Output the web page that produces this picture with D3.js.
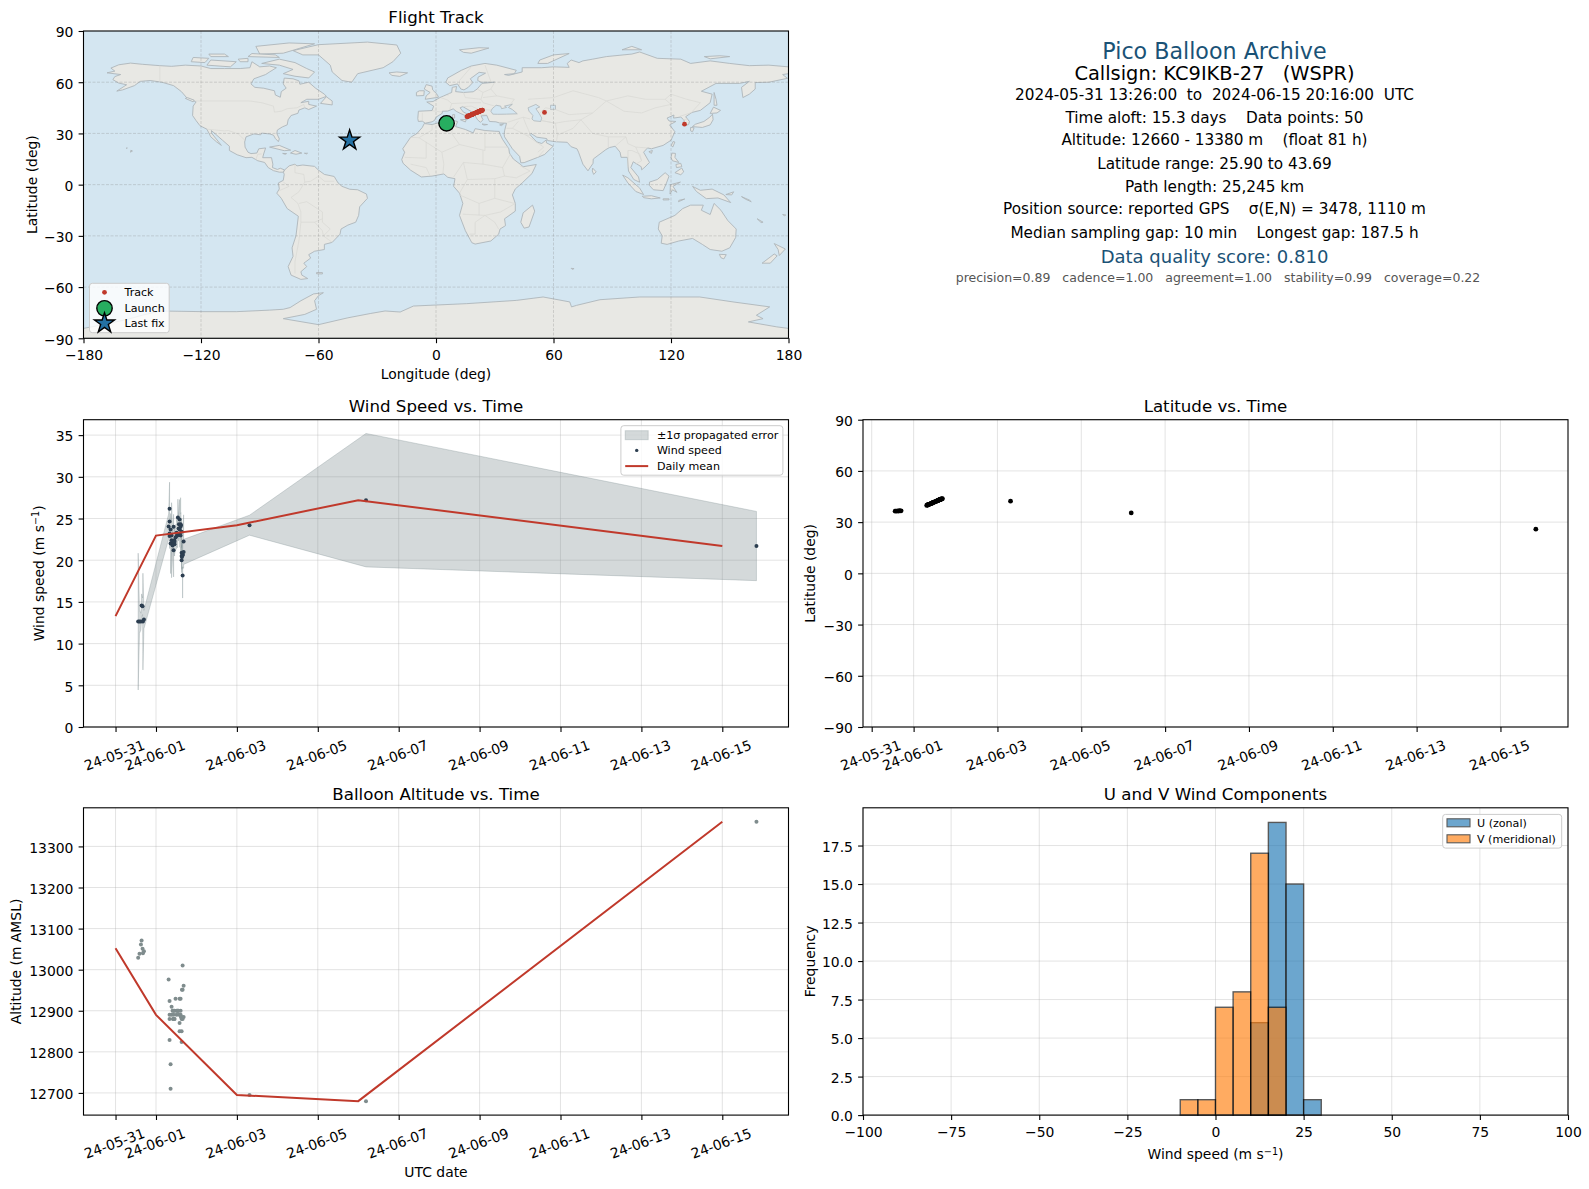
<!DOCTYPE html>
<html>
<head>
<meta charset="utf-8">
<script src="https://cdn.jsdelivr.net/npm/d3@7"></script>
<style>
  html, body { margin: 0; padding: 0; background: #fff; }
  svg { display: block; }
  text { font-family: "DejaVu Sans", sans-serif; fill: #000; }
  .tick text { font-size: 13.9px; }
  .ttl { font-size: 16.67px; text-anchor: middle; }
  .lab { font-size: 13.9px; text-anchor: middle; }
  .leg { font-size: 11.1px; }
  .info { font-size: 15.28px; text-anchor: middle; }
</style>
</head>
<body>
<div id="chart"></div>
<script>
// ---- flight data. hours are counted from 2024-05-31 00:00 UTC
let hours = [13.43, 14.2, 15.07, 15.46, 16.05, 16.25, 16.85,
  31.5, 32.06, 32.06, 32.06, 32.06, 32.66, 32.66, 33.25, 33.25, 33.84, 34.05, 34.44, 34.44, 34.44,
  34.85, 35.03, 35.03, 35.6, 36.2, 36.2, 36.8, 37.0, 37.4, 37.6, 38.0, 38.0, 38.0, 38.6, 38.6, 38.6,
  38.8, 39.2, 39.2, 39.2, 39.2, 39.4, 39.8, 39.8, 39.8, 40.4, 40.4,
  79.5, 148.6, 380.27];
let windSpeed = [12.64, 12.64, 12.64, 14.56, 14.48, 12.64, 12.88,
  24.04, 26.16, 24.64, 23.2, 22.9, 23.68, 22.0, 22.96, 22.4, 21.76, 22.08, 24.0, 21.2, 22.3,
  22.4, 21.9, 22.2, 22.72, 22.9, 23.3, 23.0, 25.12, 23.8, 24.3, 24.88, 23.68, 23.1, 22.96, 24.3, 24.0,
  24.2, 20.0, 23.4, 20.9, 20.5, 20.4, 20.72, 18.16, 20.6, 22.24, 21.0,
  24.2, 27.2, 21.7];
let windErr = [8.2, 1.4, 1.0, 1.4, 1.0, 5.8, 1.1,
  1.5, 3.2, 1.6, 1.4, 1.5, 1.6, 3.6, 1.5, 4.5, 1.4, 1.5, 1.5, 3.2, 1.5,
  1.4, 1.4, 1.5, 1.5, 1.5, 1.6, 1.5, 2.2, 1.5, 1.6, 2.4, 1.6, 1.5, 1.5, 3.2, 1.6,
  1.5, 1.5, 1.6, 1.5, 1.4, 1.5, 1.5, 2.7, 1.5, 3.2, 1.5,
  1.2, 8.0, 4.15];
let altitude = [13029, 13039, 13061, 13071, 13051, 13040, 13045,
  12976, 12924, 12890, 12880, 12829, 12770, 12710, 12910, 12890, 12900, 12880, 12900, 12890, 12880,
  12880, 12900, 12880, 12929, 12900, 12890, 12900, 12900, 12900, 12890, 12929, 12870, 12850, 12929, 12900, 12890,
  12885, 12885, 12880, 12850, 12824, 12951, 13010, 12951, 12880, 12961, 12885,
  12695, 12680, 13360];
let latitude = [36.4, 36.45, 36.5, 36.55, 36.6, 36.6, 36.65,
  39.8, 40.05, 40.1, 40.1, 40.15, 40.3, 40.35, 40.6, 40.6, 40.85, 40.9, 41.1, 41.1, 41.1,
  41.3, 41.35, 41.4, 41.65, 41.9, 41.9, 42.15, 42.25, 42.4, 42.5, 42.7, 42.7, 42.7, 42.9, 43.0, 43.0,
  43.05, 43.2, 43.25, 43.25, 43.3, 43.35, 43.5, 43.5, 43.55, 43.65, 43.69,
  42.3, 35.4, 25.9];
let longitude = [5.4, 5.5, 5.6, 5.7, 5.8, 5.8, 5.9,
  15.8, 16.3, 16.35, 16.4, 16.4, 16.8, 16.9, 17.4, 17.4, 17.9, 18.1, 18.4, 18.4, 18.45,
  18.8, 19.0, 19.0, 19.5, 20.0, 20.1, 20.6, 20.8, 21.1, 21.3, 21.7, 21.7, 21.75, 22.2, 22.25, 22.3,
  22.4, 22.8, 22.8, 22.85, 22.9, 23.0, 23.4, 23.4, 23.45, 23.65, 23.7,
  55.4, 126.9, -44.1];

// daily means
let meanHours = [0, 24, 72, 144, 360];
let meanWind = [13.3, 22.95, 24.2, 27.2, 21.7];
let meanAlt = [13052, 12890, 12695, 12680, 13360];

// histogram, left edges of the 5 m/s bins
let histEdges = [-10, -5, 0, 5, 10, 15, 20, 25];
let histU = [0, 0, 0, 0, 6, 19, 15, 1];
let histV = [1, 1, 7, 8, 17, 7, 0, 0];

let launchPos = [5.4, 35.9];
let lastPos = [-44.1, 25.9];

let dateTicks = ["2024-05-31", "2024-06-01", "2024-06-03", "2024-06-05", "2024-06-07", "2024-06-09",
  "2024-06-11", "2024-06-13", "2024-06-15"];
let lonTicks = [-180, -120, -60, 0, 60, 120, 180];
let latTicks = [-90, -60, -30, 0, 30, 60, 90];
let windTicks = [0, 5, 10, 15, 20, 25, 30, 35];
let altTicks = [12700, 12800, 12900, 13000, 13100, 13200, 13300];
let histYTicks = [0, 2.5, 5, 7.5, 10, 12.5, 15, 17.5];
let histXTicks = [-100, -75, -50, -25, 0, 25, 50, 75, 100];

let infoLines = [
  "2024-05-31 13:26:00  to  2024-06-15 20:16:00  UTC",
  "Time aloft: 15.3 days    Data points: 50",
  "Altitude: 12660 - 13380 m    (float 81 h)",
  "Latitude range: 25.90 to 43.69",
  "Path length: 25,245 km",
  "Position source: reported GPS    σ(E,N) = 3478, 1110 m",
  "Median sampling gap: 10 min    Longest gap: 187.5 h"
];

// ---- rough world outline, lon/lat
let land = [
  // north america
  [[-168,65.5],[-164,66.5],[-166,68.3],[-162,70.2],[-156,71.2],[-150,70.5],[-141,69.7],[-135,69.3],[-128,70],[-120,69.5],[-115,68],[-108,68],[-100,68],[-95,68.5],[-94,72],[-90,69],[-85,69.5],[-81.5,68.5],[-85,66],[-87,64.5],[-93,62],[-94.5,59],[-92.5,57],[-88,56.5],[-82.5,55],[-82,52.5],[-79.5,51.2],[-79,54.5],[-76.5,56.5],[-78,59],[-77.5,62.4],[-73,62],[-70,60.8],[-69.5,58.8],[-65,60],[-61.5,56.5],[-57,53],[-56,51.7],[-60,50],[-66,50],[-69,48],[-65,48.8],[-65,47],[-61,46],[-65,44],[-67,45],[-70,43.7],[-70.5,41.8],[-74,40.5],[-75.5,38],[-76,35],[-78.5,33.8],[-81,32],[-81.3,30],[-80,26.8],[-80.5,25.2],[-82,27],[-83,29],[-85,29.7],[-89,30.2],[-89.5,29.2],[-93,29.7],[-97,28],[-97.7,25],[-97.5,22],[-96,19],[-94.5,18.2],[-91.5,18.5],[-90.5,21],[-87,21.5],[-88,18],[-88.5,15.8],[-84,15.8],[-83.3,12],[-83.5,10],[-81,8.9],[-79.5,9.6],[-77.3,8.6],[-78,7.3],[-80,7.3],[-83,8.2],[-85.7,10],[-87.5,13],[-91,14],[-94,16],[-97,15.8],[-101.5,17.5],[-105.5,20],[-105.5,22.5],[-109,26],[-112.5,29.5],[-114.7,31.7],[-114.5,30],[-111,25],[-109.6,23],[-112,25],[-115,28],[-117,32.5],[-120.5,34.5],[-122.5,37.5],[-124.3,40.5],[-124,46],[-122.5,48.5],[-127,50.5],[-130,54.5],[-134,58],[-140,60],[-146,61],[-151,60.5],[-154,58],[-160,55.5],[-163,54.8],[-158,58.5],[-162,59.5],[-165,61.5],[-164,63.3],[-161,64.5]],
  // greenland and the arctic islands
  [[-73,78.5],[-60,82],[-35,83.5],[-20,81.8],[-18,77],[-22,72],[-27,68.5],[-40,65],[-43,60],[-48,61],[-53,66],[-54,70],[-60,76],[-68,76]],
  [[-80,73.5],[-72,71.5],[-66,68],[-62,66],[-65,62.5],[-72,63.5],[-78,65],[-73,67.5],[-80,70],[-89,71]],
  [[-117,70],[-105,69],[-102,72],[-115,73]],
  [[-90,76.5],[-78,77],[-62,82.5],[-75,83],[-92,81]],
  [[-125,72],[-118,71.5],[-116,74],[-124,74.5]],
  [[-96,75],[-80,74.5],[-82,76],[-94,76.8]],
  [[-115,75],[-106,75],[-108,76.5],[-116,76.5]],
  [[-100,72],[-96,72],[-96,74],[-101,73.5]],
  [[-59,47.6],[-53,46.7],[-53,49],[-56,51.5]],
  [[-128,50.5],[-124,48.5],[-123.5,49.5],[-127,51]],
  // caribbean, pacific
  [[-85,22],[-80,23],[-74.2,20.2],[-77.5,19.9]],
  [[-74.3,18.5],[-72,20],[-68.5,18.5],[-71.5,17.8]],
  [[-78.3,18.3],[-76.3,18.2],[-77,17.8]],
  [[-67.2,18.4],[-65.6,18.4],[-66,18]],
  [[-156,19],[-155,19.7],[-155.8,20.2]],
  [[-158.2,21.3],[-157.7,21.6],[-157.7,21.3]],
  // south america
  [[-77.3,8.6],[-75,11],[-72,12],[-71,11],[-68,11.5],[-62,10.7],[-60,8.5],[-57,6],[-52,4.8],[-50,1],[-48,-1],[-44,-2.7],[-40,-3],[-35.5,-5.5],[-35,-8],[-39,-13],[-39.5,-18],[-41,-22],[-45,-23.7],[-48.5,-26],[-49,-29],[-53,-33.8],[-57,-35],[-57,-38],[-62,-39],[-65,-41],[-64,-43],[-67.5,-46],[-66,-48],[-69,-51],[-68.5,-53],[-65.5,-55],[-69,-55.5],[-74,-53],[-75.5,-48],[-73,-42],[-73.5,-37],[-71.5,-30],[-70.3,-18.5],[-76,-14],[-79,-8],[-81.3,-5],[-80,-2.5],[-80.5,1],[-78,2.5],[-77.5,6],[-77.9,7.3]],
  [[-61,-51.5],[-58,-51.5],[-58,-52.3],[-61,-52.2]],
  // africa
  [[-6,35.8],[-2,35.2],[3,36.8],[10,37.3],[11,36.9],[10,34],[15,32.3],[19,30.3],[20,32.8],[25,31.7],[30,31.3],[32.3,31.2],[32.6,29.8],[34,26.5],[37.2,21],[37.5,18.5],[39.5,15],[43.3,11.7],[44.5,10.5],[51.2,11.8],[49,6.5],[44,1],[40.5,-2.5],[39,-6],[40.5,-11],[40.5,-15.5],[35,-20],[35.5,-24],[32.7,-26],[32,-29],[28,-33],[20,-34.8],[18.3,-34],[15,-27],[12,-18],[13.7,-11],[12,-5],[9,-1],[9.7,3.5],[6,4.3],[4,6.3],[-2,5],[-7.5,4.5],[-13,8.5],[-16.8,12.5],[-17.5,14.7],[-16,19],[-17,21],[-13,27.7],[-9.7,30],[-7,33.5]],
  [[49.3,-12],[50.4,-15.5],[47.5,-24.8],[45,-25.5],[43.3,-22],[44.5,-16.5]],
  // eurasia
  [[-9.3,38.7],[-9,43],[-2,43.4],[-1.2,46],[-4.7,48.4],[-1.5,48.7],[2,51],[4,52],[8,54],[8.3,57],[10.5,57.5],[10,54.5],[14,54],[19,54.4],[21,56],[23.5,59.3],[30,60],[23,60],[21.3,61],[21.5,63],[25.3,65.3],[22,65.8],[17.5,62],[18.8,59.8],[16.5,57],[14.3,55.5],[12.7,56],[11,59],[7,58],[5,60],[6,62.5],[13,67],[18,69.5],[25,71],[31,70],[41,67],[40,65],[35,64.5],[37,64],[44,66],[44,68.5],[54,68.5],[60,69],[68,68.7],[67,71],[69,73],[73,71.5],[75,72.5],[80,73.5],[87,75],[100,76.5],[104,77.7],[113,74],[125,73.5],[130,71],[140,72.5],[150,71],[160,69.7],[170,70],[180,69],[180,65],[177,64.5],[179.5,62.3],[170,60],[163,59.8],[163,56],[160,53],[156.7,51],[156,57],[160,60.5],[155,59.3],[143,59.3],[135.5,54.7],[141,53],[140,48],[135,43.5],[130.7,42.3],[127.5,39.8],[129.4,37],[129,35.2],[126.4,34.5],[126.7,37.7],[125,39.6],[121.3,39],[121.5,40.8],[118,39],[119,37.3],[122.5,37],[119.3,35],[122,31],[120,26],[116,23],[110,21],[108,21.5],[106,19],[109,13],[106.7,10.3],[105,8.7],[104.8,10.5],[100.7,13.4],[99.5,10],[103.4,4.5],[104,1.4],[101,3],[98.3,8],[97.7,16],[94.5,16],[94,19],[91.5,22.5],[88.5,21.7],[86.7,20.5],[80.3,15],[80.2,12.5],[77.6,8.1],[75,12],[72.8,19],[72,21],[69,22.2],[67,24.8],[61.5,25.1],[57,25.8],[56.5,27],[51.5,27.8],[48.5,30],[48,29.3],[50,26.7],[51.5,25],[54,24.1],[56.3,26.2],[56.4,24.5],[59.8,22.5],[55.5,17.7],[52,16],[45,12.9],[43.3,12.8],[42.7,16.5],[39,21],[35,28],[34.8,29.5],[35,31.5],[36,36],[32.5,36.1],[30.6,36.8],[27.3,37],[26.3,39.5],[26,40.5],[23,40.3],[24,38],[22.7,36.5],[21.2,38],[19.4,41.5],[19,42.2],[13.7,45.7],[12.3,45],[14,42.5],[18.4,40.2],[16.8,39.5],[15.8,38],[15.8,40],[12.3,41.8],[10.3,43],[8.8,44.4],[6,43.1],[3.2,43],[3.2,41.8],[0,39.5],[-0.7,37.7],[-2,36.8],[-5.5,36],[-7,37.2],[-9,37]],
  // european and asian islands
  [[-5.5,50],[1.3,51.2],[0.5,53],[-1.7,55.5],[-2,57.7],[-5,58.6],[-6,56],[-3,54],[-5,52]],
  [[-10,52],[-6.2,52.2],[-6,55],[-8.5,55],[-10,54]],
  [[-24,65.5],[-20,66],[-14.5,65.5],[-18.5,63.4],[-22.5,64]],
  [[12,79],[22,80.2],[27,80],[18,77],[14,77.5]],
  [[52,71],[57,71],[68,76.8],[60,76],[53,73]],
  [[95,79],[105,79],[100,81]],
  [[137,75],[145,75.5],[150,75],[140,73.7]],
  [[142,54],[143,50],[143.5,46.5],[142,46.5],[142,50]],
  [[130.9,34],[136,33.5],[140,35],[141.5,38],[141.2,41.3],[139.8,39.5],[136.8,37],[132.5,35.4]],
  [[140,41.7],[143.5,42],[145.3,43.5],[141.7,45.4]],
  [[130,33.5],[131.8,33.3],[131,31],[130,31.5]],
  [[120.2,23],[121,25.2],[122,25],[120.9,22]],
  [[108.7,19.3],[110.5,20],[110,18.3]],
  [[80,9.7],[81.8,7.5],[80.5,6],[79.8,8]],
  [[8.5,41],[9.5,41],[9.5,39],[8.5,39]],
  [[12.5,38],[15.5,38.2],[15,36.7]],
  [[23.5,35.5],[26.3,35.2],[24.5,34.9]],
  [[32.5,35],[34.5,35.6],[33.5,34.6]],
  // south east asia, oceania
  [[120.5,18.5],[122.3,18.3],[122,16],[124,13],[120.7,14],[120,16]],
  [[122,7],[125.5,9.7],[126.5,7.5],[125,5.8]],
  [[122.5,11.8],[125,12.5],[125.5,10.5],[122.8,10]],
  [[95.3,5.6],[98,4],[104,-2],[106,-5.8],[102,-4],[98,1]],
  [[105.3,-6.8],[110,-6.5],[114.5,-7.8],[110,-8.3],[106,-7.6]],
  [[116,-8.3],[119,-8.3],[119,-8.9],[116,-9]],
  [[109,1.5],[113,3],[117,7],[119,5],[117.7,1],[116,-3.5],[111,-3],[109,-0.5]],
  [[119.5,-5.5],[119.7,0],[124.8,1.5],[121,-1],[123,-4.5],[120.8,-3]],
  [[131,-1],[135,-3.3],[141,-2.6],[147,-6],[150.5,-10.5],[144,-7.8],[138,-8.2],[133,-4]],
  [[123.8,-10],[127,-8.4],[124,-9.2]],
  [[148,-5.8],[152,-4.2],[151,-6]],
  [[156,-7],[160,-9],[161,-10],[158,-8.5]],
  [[114,-22],[122,-18],[126,-14],[130,-12],[136.5,-12],[135.5,-15],[140,-17.5],[142,-11],[145.5,-15],[149,-21],[153.3,-26],[153,-31],[150,-37],[146,-39],[140,-38],[136,-35],[131,-31.5],[124,-33],[118,-35],[115,-34.3],[115.5,-30],[113.5,-26]],
  [[144.7,-40.8],[148.2,-41],[147,-43.5],[145.5,-42.8]],
  [[172.7,-34.5],[178.4,-37.7],[175.3,-41.5],[174.7,-38]],
  [[172.7,-40.6],[174.2,-41.7],[170.7,-46],[166.5,-46],[170,-43]],
  [[164,-20],[167,-22],[166,-22.2]],
  [[177,-17.5],[178.6,-17.8],[178,-18.2]],
  [[69,-49],[70.5,-49.2],[69.5,-49.6]],
  // antarctica
  [[-180,-84.2],[-170,-82],[-158,-79],[-150,-76.5],[-141,-74],[-119,-74.4],[-102,-74.4],[-85,-73.5],[-78,-73],[-74.5,-72],[-69,-68],[-62.5,-64],[-57.5,-63.3],[-60,-65],[-62,-68],[-61,-73],[-67,-76],[-78,-78.5],[-60,-82],[-45,-78],[-33.6,-75.5],[-26,-74],[-18.3,-74.6],[-11.5,-71.1],[15.7,-69.7],[41,-67.8],[54.7,-65.8],[68.3,-68.7],[69.2,-71.6],[71.8,-70.7],[83.7,-67.4],[104,-65.8],[134.7,-65.8],[151.7,-68.7],[170.4,-71.6],[163.6,-76.5],[167,-78.5],[159.5,-80.4],[174,-83.3],[180,-84.2],[180,-90],[-180,-90]]
];

let lakes = [
  [[28,43],[29,41.3],[31.5,41.2],[36,41.3],[41.5,41.5],[39,44],[37,45.2],[39,47.1],[35,46],[36,45.2],[33.5,44.5],[33,46],[30.7,46.5],[28.7,44.5]],
  [[47,45],[51,47],[53,45.5],[51,44.5],[52.8,41.5],[54,39],[53.5,37],[50,37.4],[49,38.5],[49.5,40.5],[47.5,43]],
  [[58.5,46.5],[61,46.5],[61,44],[58.5,44]]
];

let borders = [
  [[-123,49],[-95,49],[-89,48],[-83,46],[-82.5,42.5],[-79,43],[-76,44.5],[-71,45],[-67.5,47],[-67,45]],
  [[-141,69.7],[-141,60]],
  [[-117,32.5],[-108,31.5],[-106,31.7],[-101,29.7],[-97.5,25.9]],
  [[-92,14.6],[-91,17.8],[-89,18]],
  [[-72,12],[-72,7],[-67.5,6],[-67,1.5],[-70,-4.2],[-74,-7.5],[-70.5,-11],[-69,-16],[-69,-22],[-70,-33],[-72,-45],[-72,-52]],
  [[-60,5],[-64,2],[-67,1.5]],
  [[-52,2],[-57,2],[-60,5]],
  [[-58,-16],[-66,-10],[-70,-11]],
  [[-58,-16],[-58,-22],[-54,-26],[-57.5,-30],[-53,-33.8]],
  [[-69,-22],[-62,-22],[-58,-20]],
  [[-62,-22],[-58,-27],[-57.5,-30]],
  [[-80,-3.5],[-75,-1],[-78,1.5]],
  [[-8.7,27.5],[-13,27.7]],
  [[-8.7,27.5],[3,19],[12,23.5],[25,20],[25,31.7]],
  [[3,19],[4,12],[3.5,6.3]],
  [[-2,35],[-2,32],[-8.7,27.5]],
  [[-16,16],[-5,15.5],[-5,25]],
  [[9,37],[8,30],[12,23.5]],
  [[14,13],[24,12],[24,20]],
  [[14,13],[9,4.5]],
  [[25,22],[36.9,22]],
  [[24,12],[34,10],[35,5],[41,4],[48,8],[43,11]],
  [[34,10],[38,18]],
  [[14,13],[16,3],[12,-5]],
  [[16,3],[30,3.5],[35,5]],
  [[30,3.5],[30,-8],[40,-11]],
  [[13.7,-17.3],[25,-18],[33,-16],[40.5,-11]],
  [[25,-18],[20,-22],[20,-29],[17,-29]],
  [[25,-18],[30,-22],[32,-26]],
  [[30,-8],[22,-11],[12,-6]],
  [[22,-11],[22,-18]],
  [[-13,12],[-5,10],[-3,5]],
  [[-2,43.3],[3,42.5]],
  [[-7,42],[-7,37.2]],
  [[2.5,51],[6,49.5],[8,47.5],[7,44]],
  [[6,52],[7,54]],
  [[14,54],[15,51],[23,50],[24,54],[21,56]],
  [[23,50],[24,48],[30,46]],
  [[8,47.5],[17,48],[23,48]],
  [[13.7,45.7],[18,46],[22,44],[28,43.7]],
  [[22,44],[21,41],[26,41]],
  [[30,60],[28,56],[24,54]],
  [[31,52],[40,50],[38,47]],
  [[28,56],[31,52],[24,51]],
  [[25,70],[28,60.5]],
  [[18,69],[12,61],[12,58]],
  [[47,50],[60,51],[70,55],[83,51],[87,49]],
  [[87,49],[98,52],[107,50],[117,50],[120,53],[128,50],[135,48],[131,43]],
  [[87,49],[96,43],[105,42],[112,45],[120,47],[117,50]],
  [[74,38],[80,30],[88,28],[97,28],[98,24],[102,22],[108,21.5]],
  [[74,38],[80,42],[87,49]],
  [[74,38],[70,33],[62,29],[61.5,25]],
  [[61,36],[62,29]],
  [[61,36],[54,37.5]],
  [[48,38.5],[44.5,39.5],[46,35],[48,30]],
  [[44.5,39.5],[36.5,36.5]],
  [[36,33],[39,33],[46,29],[48,29]],
  [[39,33],[42,37]],
  [[55,20],[52,16]],
  [[46,29],[55,22],[52,19]],
  [[53,42],[56,45],[61,44],[68,41],[80,42]],
  [[54,37.5],[61,36],[66,37],[74,38]],
  [[88,28],[88,22]],
  [[97,28],[92,23]],
  [[98,20],[100,20],[104,18],[105,14],[102,12]],
  [[98,20],[98,10]],
  [[102,22],[105,14]],
  [[124.5,40],[130.7,42.3]],
  [[126,38],[128.5,38.5]]
];

// ---- layout
let svg = d3.select("#chart").append("svg").attr("width", 1589).attr("height", 1189);

let leftX = 83.5, rightX = 863;
let panelW = 705, panelH = 307.3;
let rowY = [31, 419.7, 807.8];

let startDay = Date.UTC(2024, 4, 31);
let toDate = h => new Date(startDay + h * 3600000);
let tDates = dateTicks.map(d => new Date(d + "T00:00:00Z"));

let makePanel = (x, y) => svg.append("g").attr("transform", `translate(${x}, ${y})`);

let addGrid = (g, xScale, yScale, xTicks, yTicks) => {
  let gr = g.append("g").attr("stroke", "#b0b0b0").attr("stroke-opacity", 0.35).attr("stroke-width", 1);
  gr.selectAll("line.v").data(xTicks).enter().append("line").attr("class", "v")
    .attr("x1", d => xScale(d)).attr("x2", d => xScale(d)).attr("y1", 0).attr("y2", panelH);
  gr.selectAll("line.h").data(yTicks).enter().append("line").attr("class", "h")
    .attr("x1", 0).attr("x2", panelW).attr("y1", d => yScale(d)).attr("y2", d => yScale(d));
};

let addAxes = (g, xScale, yScale, xTicks, yTicks, xFmt, yFmt, rotate) => {
  let xa = g.append("g").attr("transform", `translate(0, ${panelH})`)
    .call(d3.axisBottom(xScale).tickValues(xTicks).tickFormat(xFmt).tickSize(4.9).tickPadding(6.9));
  let ya = g.append("g")
    .call(d3.axisLeft(yScale).tickValues(yTicks).tickFormat(yFmt).tickSize(4.9).tickPadding(5.2));
  xa.select(".domain").remove();
  ya.select(".domain").remove();
  xa.selectAll("line").attr("stroke-width", 1.1);
  ya.selectAll("line").attr("stroke-width", 1.1);
  ya.selectAll("text").attr("dy", "0.42em");
  if (rotate) {
    xa.selectAll("text")
      .attr("y", 0).attr("dy", "0.35em")
      .attr("text-anchor", "middle")
      .attr("transform", "translate(-1.5, 28.3) rotate(-20)");
  }
  g.append("rect").attr("width", panelW).attr("height", panelH)
    .attr("fill", "none").attr("stroke", "#000").attr("stroke-width", 1.1);
};

let addTitle = (g, s) => g.append("text").attr("class", "ttl").attr("x", panelW / 2).attr("y", -8).text(s);

let addYLabel = (g, x) => g.append("text").attr("class", "lab")
  .attr("transform", `translate(${x}, ${panelH / 2}) rotate(-90)`);

let windUnit = (t, prefix) => {
  t.append("tspan").text(prefix + " (m s");
  t.append("tspan").attr("dy", "-0.45em").style("font-size", "9.7px").text("−1");
  t.append("tspan").attr("dy", "0.32em").text(")");
};

let legendBox = (g, x, y, w, h) => g.append("rect").attr("x", x).attr("y", y).attr("width", w).attr("height", h)
  .attr("rx", 2.8).attr("fill", "#fff").attr("fill-opacity", 0.8).attr("stroke", "#ccc").attr("stroke-width", 1);

let legendText = (g, x, y, s) => g.append("text").attr("class", "leg").attr("x", x).attr("y", y)
  .attr("dy", "0.36em").text(s);

// ---- map panel
let map = makePanel(leftX, rowY[0]);
let lonScale = d3.scaleLinear().domain([-180, 180]).range([0, panelW]);
let latScale = d3.scaleLinear().domain([-90, 90]).range([panelH, 0]);
let geoLine = d3.line().x(d => lonScale(d[0])).y(d => latScale(d[1]));

svg.append("clipPath").attr("id", "mapClip").append("rect").attr("width", panelW).attr("height", panelH);
let mapInner = map.append("g").attr("clip-path", "url(#mapClip)");
mapInner.append("rect").attr("width", panelW).attr("height", panelH).attr("fill", "#d4e6f1");
mapInner.selectAll("path.land").data(land).enter().append("path").attr("class", "land")
  .attr("d", d => geoLine(d) + "Z")
  .attr("fill", "#e8e8e4").attr("stroke", "#aeb6ba").attr("stroke-width", 0.9);
mapInner.selectAll("path.lake").data(lakes).enter().append("path").attr("class", "lake")
  .attr("d", d => geoLine(d) + "Z")
  .attr("fill", "#d4e6f1").attr("stroke", "#aeb6ba").attr("stroke-width", 0.8);
mapInner.selectAll("path.border").data(borders).enter().append("path").attr("class", "border")
  .attr("d", geoLine).attr("fill", "none").attr("stroke", "#d8d8d4").attr("stroke-width", 0.7);

// dashed graticule on top of the land
let gratX = lonTicks.slice(1, -1), gratY = latTicks.slice(1, -1);
let grat = mapInner.append("g").attr("stroke", "#808080").attr("stroke-opacity", 0.4)
  .attr("stroke-width", 0.7).attr("stroke-dasharray", "3,1.5");
grat.selectAll("line.v").data(gratX).enter().append("line").attr("class", "v")
  .attr("x1", d => lonScale(d)).attr("x2", d => lonScale(d)).attr("y1", 0).attr("y2", panelH);
grat.selectAll("line.h").data(gratY).enter().append("line").attr("class", "h")
  .attr("x1", 0).attr("x2", panelW).attr("y1", d => latScale(d)).attr("y2", d => latScale(d));

let trackColor = "#c0392b", launchColor = "#27ae60", lastColor = "#2471a3";
let starPath = d3.symbol(d3.symbolStar).size(125);

mapInner.selectAll("circle.trk").data(hours.slice(0, hours.length - 1)).enter().append("circle").attr("class", "trk")
  .attr("cx", (d, i) => lonScale(longitude[i])).attr("cy", (d, i) => latScale(latitude[i]))
  .attr("r", 2.4).attr("fill", trackColor);
mapInner.append("circle").attr("cx", lonScale(launchPos[0])).attr("cy", latScale(launchPos[1]))
  .attr("r", 7.7).attr("fill", launchColor).attr("stroke", "#000").attr("stroke-width", 1.4);
mapInner.append("path").attr("d", starPath)
  .attr("transform", `translate(${lonScale(lastPos[0])}, ${latScale(lastPos[1])})`)
  .attr("fill", lastColor).attr("stroke", "#000").attr("stroke-width", 1.4);

addAxes(map, lonScale, latScale, lonTicks, latTicks, d => String(d).replace("-", "−"), d => String(d).replace("-", "−"), false);
addTitle(map, "Flight Track");
map.append("text").attr("class", "lab").attr("x", panelW / 2).attr("y", panelH + 41).text("Longitude (deg)");
addYLabel(map, -47).text("Latitude (deg)");

// map legend
let mapLeg = map.append("g");
legendBox(mapLeg, 6, 252.3, 79.7, 49.4);
mapLeg.append("circle").attr("cx", 21).attr("cy", 261.3).attr("r", 2.4).attr("fill", trackColor);
mapLeg.append("circle").attr("cx", 21).attr("cy", 277.3).attr("r", 7.7).attr("fill", launchColor)
  .attr("stroke", "#000").attr("stroke-width", 1.4);
mapLeg.append("path").attr("d", starPath).attr("transform", "translate(21, 292.3)")
  .attr("fill", lastColor).attr("stroke", "#000").attr("stroke-width", 1.4);
legendText(mapLeg, 41, 261.3, "Track");
legendText(mapLeg, 41, 277.3, "Launch");
legendText(mapLeg, 41, 292.3, "Last fix");

// ---- summary text
let info = svg.append("g");
let infoX = 1214.5;
info.append("text").attr("x", infoX).attr("y", 50.7).attr("dy", "0.36em")
  .style("font-size", "22.2px").style("text-anchor", "middle").style("fill", "#1a5276").text("Pico Balloon Archive");
info.append("text").attr("x", infoX).attr("y", 73).attr("dy", "0.36em")
  .style("font-size", "19.4px").style("text-anchor", "middle").style("white-space", "pre").text("Callsign: KC9IKB-27   (WSPR)");
let infoY = [94.2, 117.6, 139.9, 163.2, 186.5, 208.8, 232];
info.selectAll("text.info").data(infoLines).enter().append("text").attr("class", "info")
  .attr("x", infoX).attr("y", (d, i) => infoY[i]).attr("dy", "0.36em")
  .style("white-space", "pre").text(d => d);
info.append("text").attr("x", infoX).attr("y", 256.4).attr("dy", "0.36em")
  .style("font-size", "18px").style("text-anchor", "middle").style("fill", "#1a5276").text("Data quality score: 0.810");
info.append("text").attr("x", infoX + 3.5).attr("y", 277.2).attr("dy", "0.36em")
  .style("font-size", "12.5px").style("text-anchor", "middle").style("fill", "#555").style("white-space", "pre")
  .text("precision=0.89   cadence=1.00   agreement=1.00   stability=0.99   coverage=0.22");

// ---- time scale shared by the left column (it includes the daily mean at 05-31 00:00)
let fmtDay = d3.utcFormat("%y-%m-%d");
let leftTime = d3.scaleUtc()
  .domain([toDate(-0.792 * 24), toDate(380.27 + 0.792 * 24)])
  .range([0, panelW]);
let rightTime = d3.scaleUtc()
  .domain([toDate(13.43 - 0.767 * 24), toDate(380.27 + 0.767 * 24)])
  .range([0, panelW]);

// ---- wind speed
let wind = makePanel(leftX, rowY[1]);
let windY = d3.scaleLinear().domain([0, 36.85]).range([panelH, 0]);
addGrid(wind, leftTime, windY, tDates, windTicks);
let bandArea = d3.area()
  .x(d => leftTime(toDate(hours[d])))
  .y0(d => windY(windSpeed[d] - windErr[d]))
  .y1(d => windY(windSpeed[d] + windErr[d]));
wind.append("path").attr("d", bandArea(d3.range(hours.length)))
  .attr("fill", "#7b8c90").attr("fill-opacity", 0.33).attr("stroke", "#7b8c90").attr("stroke-opacity", 0.3).attr("stroke-width", 1);
wind.selectAll("circle").data(hours).enter().append("circle")
  .attr("cx", d => leftTime(toDate(d))).attr("cy", (d, i) => windY(windSpeed[i]))
  .attr("r", 2).attr("fill", "#2c3e50");
let windMeanLine = d3.line().x(d => leftTime(toDate(d))).y((d, i) => windY(meanWind[i]));
wind.append("path").attr("d", windMeanLine(meanHours)).attr("fill", "none")
  .attr("stroke", trackColor).attr("stroke-width", 2);
addAxes(wind, leftTime, windY, tDates, windTicks, fmtDay, d => d, true);
addTitle(wind, "Wind Speed vs. Time");
windUnit(addYLabel(wind, -40), "Wind speed");

let wLeg = wind.append("g");
legendBox(wLeg, 537.4, 6, 162, 49.5);
wLeg.append("rect").attr("x", 541.7).attr("y", 11).attr("width", 23).attr("height", 9)
  .attr("fill", "#7b8c90").attr("fill-opacity", 0.33).attr("stroke", "#7b8c90").attr("stroke-opacity", 0.3);
wLeg.append("circle").attr("cx", 553.2).attr("cy", 30.7).attr("r", 1.7).attr("fill", "#2c3e50");
wLeg.append("line").attr("x1", 541.7).attr("x2", 564.7).attr("y1", 46.4).attr("y2", 46.4)
  .attr("stroke", trackColor).attr("stroke-width", 2);
legendText(wLeg, 573.4, 15.4, "±1σ propagated error");
legendText(wLeg, 573.4, 30.7, "Wind speed");
legendText(wLeg, 573.4, 46.4, "Daily mean");

// ---- latitude
let latP = makePanel(rightX, rowY[1]);
addGrid(latP, rightTime, latScale, tDates, latTicks);
latP.selectAll("circle").data(hours).enter().append("circle")
  .attr("cx", d => rightTime(toDate(d))).attr("cy", (d, i) => latScale(latitude[i]))
  .attr("r", 2.4).attr("fill", "#000");
addAxes(latP, rightTime, latScale, tDates, latTicks, fmtDay, d => String(d).replace("-", "−"), true);
addTitle(latP, "Latitude vs. Time");
addYLabel(latP, -48).text("Latitude (deg)");

// ---- altitude
let alt = makePanel(leftX, rowY[2]);
let altY = d3.scaleLinear().domain([12646, 13394]).range([panelH, 0]);
addGrid(alt, leftTime, altY, tDates, altTicks);
alt.selectAll("circle").data(hours).enter().append("circle")
  .attr("cx", d => leftTime(toDate(d))).attr("cy", (d, i) => altY(altitude[i]))
  .attr("r", 2).attr("fill", "#7f8c8d");
let altMeanLine = d3.line().x(d => leftTime(toDate(d))).y((d, i) => altY(meanAlt[i]));
alt.append("path").attr("d", altMeanLine(meanHours)).attr("fill", "none")
  .attr("stroke", trackColor).attr("stroke-width", 2);
addAxes(alt, leftTime, altY, tDates, altTicks, fmtDay, d => d, true);
addTitle(alt, "Balloon Altitude vs. Time");
addYLabel(alt, -63).text("Altitude (m AMSL)");
alt.append("text").attr("class", "lab").attr("x", panelW / 2).attr("y", panelH + 62).text("UTC date");

// ---- U/V histogram
let hist = makePanel(rightX, rowY[2]);
let histX = d3.scaleLinear().domain([-100, 100]).range([0, panelW]);
let histY = d3.scaleLinear().domain([0, 19.95]).range([panelH, 0]);
addGrid(hist, histX, histY, histXTicks, histYTicks);
let drawBars = (counts, color) => {
  let bars = histEdges.map((e, i) => ({ edge: e, count: counts[i] })).filter(b => b.count > 0);
  hist.append("g").selectAll("rect").data(bars).enter().append("rect")
    .attr("x", d => histX(d.edge))
    .attr("width", histX(5) - histX(0))
    .attr("y", d => histY(d.count))
    .attr("height", d => panelH - histY(d.count))
    .attr("fill", color).attr("stroke", "#000").attr("stroke-width", 1.39).attr("opacity", 0.65);
};
drawBars(histU, "#1f77b4");
drawBars(histV, "#ff7f0e");
addAxes(hist, histX, histY, histXTicks, histYTicks, d => String(d).replace("-", "−"), d => d.toFixed(1), false);
addTitle(hist, "U and V Wind Components");
addYLabel(hist, -48).text("Frequency");
windUnit(hist.append("text").attr("class", "lab").attr("x", panelW / 2).attr("y", panelH + 44), "Wind speed");

let hLeg = hist.append("g");
legendBox(hLeg, 579.7, 6.6, 119, 33.7);
hLeg.append("rect").attr("x", 584).attr("y", 11).attr("width", 23).attr("height", 8)
  .attr("fill", "#1f77b4").attr("stroke", "#000").attr("stroke-width", 1.1).attr("opacity", 0.65);
hLeg.append("rect").attr("x", 584).attr("y", 27).attr("width", 23).attr("height", 8)
  .attr("fill", "#ff7f0e").attr("stroke", "#000").attr("stroke-width", 1.1).attr("opacity", 0.65);
legendText(hLeg, 614, 15.5, "U (zonal)");
legendText(hLeg, 614, 31, "V (meridional)");
</script>
</body>
</html>
